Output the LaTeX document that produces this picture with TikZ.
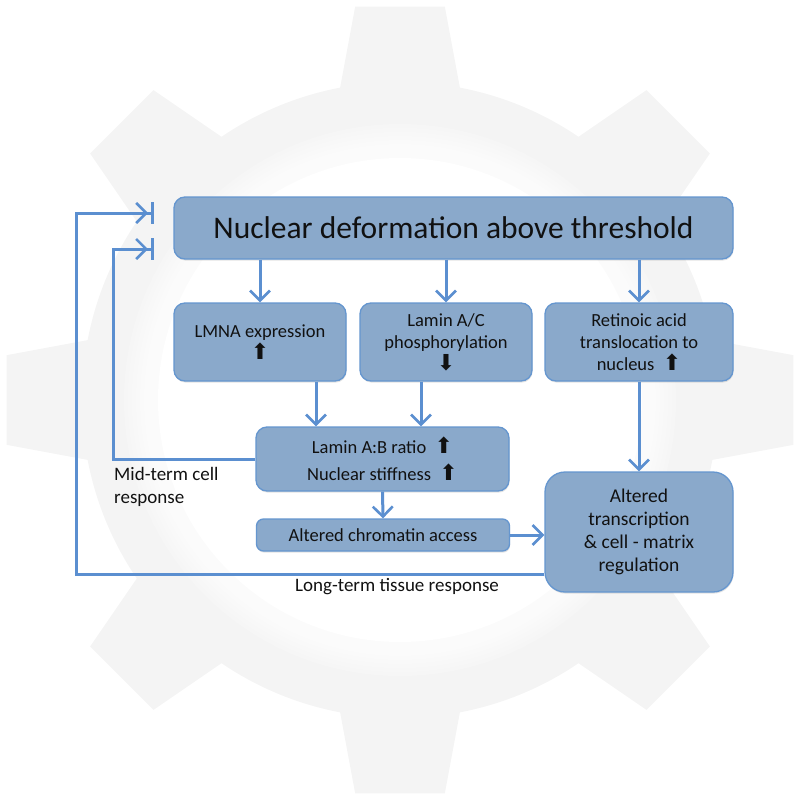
\documentclass[tikz,border=0pt]{standalone}
\usepackage{fontspec}
\setmainfont{Carlito}
\newfontfamily\arrfont{DejaVu Sans}
\usetikzlibrary{arrows.meta,shadows}
\newcommand\myup{{\arrfont\fontsize{22}{22}\selectfont ⬆}}
\newcommand\mydown{{\arrfont\fontsize{22}{22}\selectfont ⬇}}
\definecolor{boxfill}{HTML}{8AA9CB}
\definecolor{boxline}{HTML}{6596CF}
\definecolor{conn}{HTML}{5B8FD0}
\definecolor{gearcol}{HTML}{F4F4F4}
\definecolor{txt}{HTML}{111111}
\tikzset{
  box/.style={rounded corners=11pt, fill=boxfill, draw=boxline, line width=1.3pt,
    align=center, inner sep=0pt, text=txt,
    drop shadow={shadow xshift=0.6pt, shadow yshift=-1.6pt, opacity=0.22}},
  smalltext/.style={font=\fontsize{18.5}{22}\selectfont},
  conn/.style={draw=conn, line width=3pt,
    -{Straight Barb[length=10pt,width=20pt,line width=2.6pt]}},
  fb/.style={draw=conn, line width=3pt,
    -{Straight Barb[length=10pt,width=20pt,line width=2.6pt,sep=3pt] Bar[width=22pt,line width=3pt]}},
  lbl/.style={text=txt, font=\fontsize{19}{23}\selectfont, inner sep=0pt}
}
\begin{document}
\begin{tikzpicture}[x=1pt,y=-1pt]
\useasboundingbox (0,0) rectangle (800,800);
% gear background
\begin{scope}[shift={(400,400)}]
  \fill[gearcol] (0,0) circle (318);
  \foreach \i in {0,...,7}{
    \fill[gearcol] (\i*45-11:316) -- (\i*45-6.5:396) -- (\i*45+6.5:396) -- (\i*45+11:316) -- cycle;
  }
  \foreach \r in {276,272,...,244}{
    \fill[white, opacity=0.2] (0,0) circle (\r);
  }
  \fill[white] (0,0) circle (242);
\end{scope}
% nodes
\node[box, minimum width=559pt, minimum height=62pt, font=\fontsize{31.5}{36}\selectfont]
  (title) at (453.5,228) {Nuclear deformation above threshold};
\node[box, smalltext, minimum width=172pt, minimum height=78pt] (lmna) at (260,342)
  {LMNA expression\\\myup};
\node[box, smalltext, minimum width=172pt, minimum height=78pt] (lac) at (446,342)
  {Lamin A/C\\phosphorylation\\\mydown};
\node[box, smalltext, minimum width=188pt, minimum height=78pt] (ret) at (639,342)
  {Retinoic acid\\translocation to\\nucleus \ \myup};
\node[box, minimum width=253pt, minimum height=64pt, font=\fontsize{18.5}{27}\selectfont] (ab) at (382.5,459)
  {Lamin A:B ratio \ \myup\\Nuclear stiffness \ \myup};
\node[box, smalltext, minimum width=253pt, minimum height=32pt, rounded corners=7pt] (chr) at (383,535)
  {Altered chromatin access};
\node[box, rounded corners=20pt, minimum width=188pt, minimum height=120pt,
  font=\fontsize{19.5}{23}\selectfont] (tr) at (639,532)
  {Altered\\transcription\\\&\ cell - matrix\\regulation};
% labels
\node[lbl, align=left, anchor=north west] (mid) at (114,467) {Mid-term cell\\response};
\node[lbl] (long) at (397,587) {Long-term tissue response};
% coordinates for feedback ends
\coordinate (midturn) at (113,249);
\coordinate (midend) at (154,249);
\coordinate (longstart) at (545,574);
\coordinate (longturn) at (76,213);
\coordinate (longend) at (154,213);
% connectors
\draw[conn] (title.south -| lmna.north) -- (lmna.north);
\draw[conn] (title.south -| lac.north) -- (lac.north);
\draw[conn] (title.south -| ret.north) -- (ret.north);
\draw[conn] (lmna.south -| 316,0) -- (ab.north -| 316,0);
\draw[conn] (lac.south -| 421,0) -- (ab.north -| 421,0);
\draw[conn] (ret.south) -- (tr.north);
\draw[conn] (ab.south) -- (chr.north);
\draw[conn] (chr.east) -- (tr.west |- chr.east);
\draw[fb] (ab.west) -| (midturn) -- (midend);
\draw[fb] (tr.west |- longstart) -| (longturn) -- (longend);
\end{tikzpicture}
\end{document}
